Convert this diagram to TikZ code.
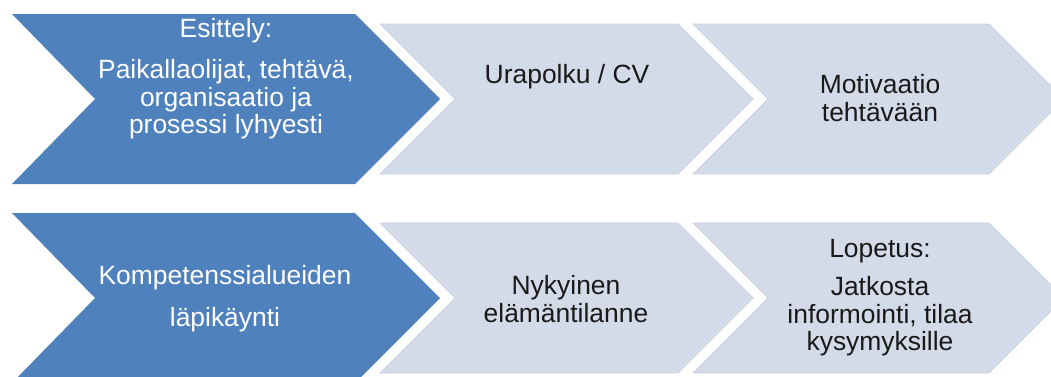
\documentclass[tikz,border=0pt]{standalone}
\usepackage{fontspec}
\setmainfont{Liberation Sans}
\usepackage{tikz}

\definecolor{stepblue}{HTML}{4F81BD}
\definecolor{steplight}{HTML}{D4DBE8}
\definecolor{stepedge}{HTML}{C6CFE0}

\tikzset{
  darkstep/.style={fill=stepblue},
  lightstep/.style={fill=steplight, draw=stepedge, line width=0.5pt},
  steptext/.style={align=center, inner sep=0pt, font=\fontsize{18.8}{19.7}\selectfont},
  darktext/.style={steptext, text=white},
  lighttext/.style={steptext, text=black!90}
}

\begin{document}
\begin{tikzpicture}[x=0.025cm, y=-0.025cm]
\useasboundingbox (0, 0) rectangle (1051, 376);
\clip (0, 0) rectangle (1051, 376);

% upper row
\fill[darkstep] (12, 14) -- (355, 14) -- (440, 99) -- (355, 184) -- (12, 184) -- (95, 99) -- cycle;
\filldraw[lightstep] (380, 24) -- (678, 24) -- (753, 99) -- (678, 174) -- (380, 174) -- (455, 99) -- cycle;
\filldraw[lightstep] (693, 24) -- (989, 24) -- (1064, 99) -- (989, 174) -- (693, 174) -- (768, 99) -- cycle;

% lower row
\fill[darkstep] (12, 213) -- (355, 213) -- (440, 298) -- (355, 383) -- (12, 383) -- (95, 298) -- cycle;
\filldraw[lightstep] (380, 223) -- (678, 223) -- (753, 298) -- (678, 373) -- (380, 373) -- (455, 298) -- cycle;
\filldraw[lightstep] (693, 223) -- (989, 223) -- (1064, 298) -- (989, 373) -- (693, 373) -- (768, 298) -- cycle;

\node[darktext] (intro) at (226, 79) {Esittely:\\[9pt] Paikallaolijat, tehtävä,\\ organisaatio ja\\ prosessi lyhyesti};
\node[lighttext] (career) at (567, 77) {Urapolku / CV};
\node[lighttext] (motive) at (880, 98) {Motivaatio\\ tehtävään};

\node[darktext] (skills) at (225, 299) {Kompetenssialueiden\\[10pt] läpikäynti};
\node[lighttext] (life) at (566, 299) {Nykyinen\\ elämäntilanne};
\node[lighttext] (closing) at (880, 298) {Lopetus:\\[7pt] Jatkosta\\ informointi, tilaa\\ kysymyksille};
\end{tikzpicture}
\end{document}
